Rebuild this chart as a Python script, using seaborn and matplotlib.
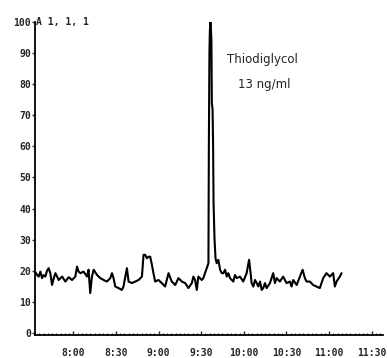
"""Chromatogram: Thiodiglycol 13 ng/ml, relative abundance vs scan time."""

import matplotlib

matplotlib.use("Agg")
import matplotlib.pyplot as plt
import pandas as pd
import seaborn as sns
from matplotlib.ticker import FixedLocator, MultipleLocator

# scan time (seconds)
TIME_S = [
    453.3, 454.5, 455.6, 456.8, 458.0, 459.1, 460.3, 461.5, 462.6, 463.8,
    465.0, 466.2, 467.4, 469.7, 472.1, 474.4, 476.7, 479.1, 481.4, 482.6,
    483.7, 484.9, 487.2, 489.6, 490.7, 491.9, 493.1, 494.3, 496.7, 499.0,
    501.3, 503.7, 506.0, 507.2, 508.3, 509.5, 511.8, 514.2, 515.3, 517.7,
    518.9, 521.2, 523.6, 525.9, 528.3, 529.4, 530.6, 531.8, 532.9, 534.1,
    535.3, 536.4, 537.6, 539.9, 542.3, 544.6, 547.0, 549.3, 551.7, 554.0,
    556.4, 558.7, 561.0, 563.4, 564.5, 565.7, 566.9, 568.0, 570.4, 571.5,
    572.7, 575.1, 575.4, 575.8, 576.1, 576.5, 576.8, 577.2, 577.5, 578.0,
    578.4, 578.7, 579.4, 580.1, 580.9, 582.1, 583.3, 584.5, 585.6, 586.8,
    588.0, 589.1, 590.3, 592.6, 593.8, 595.0, 597.3, 599.6, 602.0, 603.7,
    604.8, 605.5, 606.7, 607.9, 609.1, 610.2, 611.4, 612.6, 613.7, 614.9,
    616.1, 618.4, 620.7, 621.9, 623.1, 625.4, 627.7, 630.1, 632.5, 633.6,
    634.8, 637.2, 639.5, 641.4, 643.0, 644.2, 646.5, 648.8, 651.2, 653.5,
    655.9, 658.2, 660.6, 662.9, 664.1, 665.3, 667.6, 668.8,
]
# relative abundance (%)
ABUND = [
    19.5, 18.6, 18.1, 19.7, 17.6, 18.6, 18.1, 20.0, 20.8, 19.2,
    15.4, 17.6, 19.2, 17.0, 18.1, 16.5, 17.9, 17.0, 18.1, 21.3,
    19.7, 19.2, 19.7, 18.1, 20.3, 12.8, 18.1, 20.3, 18.6, 17.6,
    17.0, 16.5, 17.6, 19.2, 17.6, 14.9, 14.4, 13.8, 14.9, 20.8,
    16.5, 16.0, 16.5, 17.0, 18.1, 25.1, 25.1, 24.0, 24.5, 24.5,
    21.9, 19.2, 16.5, 17.0, 16.0, 14.9, 19.2, 16.5, 15.4, 17.6,
    16.5, 16.0, 14.4, 16.0, 18.1, 17.0, 13.8, 18.1, 17.0, 17.6,
    19.2, 22.4, 60.0, 90.0, 97.0, 100.0, 98.0, 94.0, 74.0, 72.0,
    60.0, 42.0, 30.0, 24.0, 22.4, 23.5, 20.3, 19.2, 19.2, 20.3,
    18.1, 19.2, 17.6, 16.5, 18.6, 17.6, 18.1, 16.5, 19.2, 23.5,
    19.2, 16.0, 14.9, 17.0, 16.0, 14.9, 16.5, 13.8, 14.4, 16.0,
    14.4, 16.0, 19.2, 16.0, 17.6, 16.5, 18.1, 16.0, 16.5, 14.9,
    17.0, 15.4, 18.1, 20.3, 17.6, 16.5, 16.5, 15.4, 14.9, 14.4,
    17.6, 19.2, 18.1, 19.2, 14.9, 16.5, 18.1, 19.2,
]

X_TICKS = [480, 510, 540, 570, 600, 630, 660, 690]
X_LABELS = ["8:00", "8:30", "9:00", "9:30", "10:00", "10:30", "11:00", "11:30"]
Y_TICKS = [0, 10, 20, 30, 40, 50, 60, 70, 80, 90, 100]
Y_LABELS = ["0", "10", "20", "30", "40", "50", "60", "70", "80", "90", "100"]

sns.set_theme(style="ticks")
plt.rcParams["font.family"] = ["DejaVu Sans Mono", "DejaVu Sans"]

df = pd.DataFrame({"t": TIME_S, "ra": ABUND})

fig = plt.figure(figsize=(3.87, 3.58), dpi=100)
ax = fig.add_axes([0.0904, 0.0642, 0.8993, 0.8743])
sns.lineplot(data=df, x="t", y="ra", ax=ax, color="black", linewidth=1.5)

ax.set_xlim(453, 698)
ax.set_ylim(-0.7, 100)
ax.set_xlabel("")
ax.set_ylabel("")
sns.despine(ax=ax)
for s in ("left", "bottom"):
    ax.spines[s].set_linewidth(1.3)
    ax.spines[s].set_color("black")

ax.xaxis.set_major_locator(FixedLocator(X_TICKS))
ax.set_xticklabels(X_LABELS, fontsize=7, fontweight="bold")
ax.xaxis.set_minor_locator(MultipleLocator(3))
ax.tick_params(axis="x", which="major", direction="in", length=3, width=1, pad=9)
ax.tick_params(axis="x", which="minor", direction="in", length=1.5, width=0.8)

ax.yaxis.set_major_locator(FixedLocator(Y_TICKS))
ax.set_yticklabels(Y_LABELS, fontsize=7, fontweight="bold")
ax.tick_params(axis="y", which="major", direction="out", length=2, width=1, pad=1)

ax.text(0.004, 1.0, "A 1, 1, 1", transform=ax.transAxes, fontsize=7,
        fontweight="bold", ha="left", va="center")
ax.text(588, 88, "Thiodiglycol", fontsize=8.5, family="DejaVu Sans",
        color="#222222", ha="left", va="center")
ax.text(596, 80, "13 ng/ml", fontsize=8.5, family="DejaVu Sans",
        color="#222222", ha="left", va="center")

fig.savefig("out.png", dpi=100)
